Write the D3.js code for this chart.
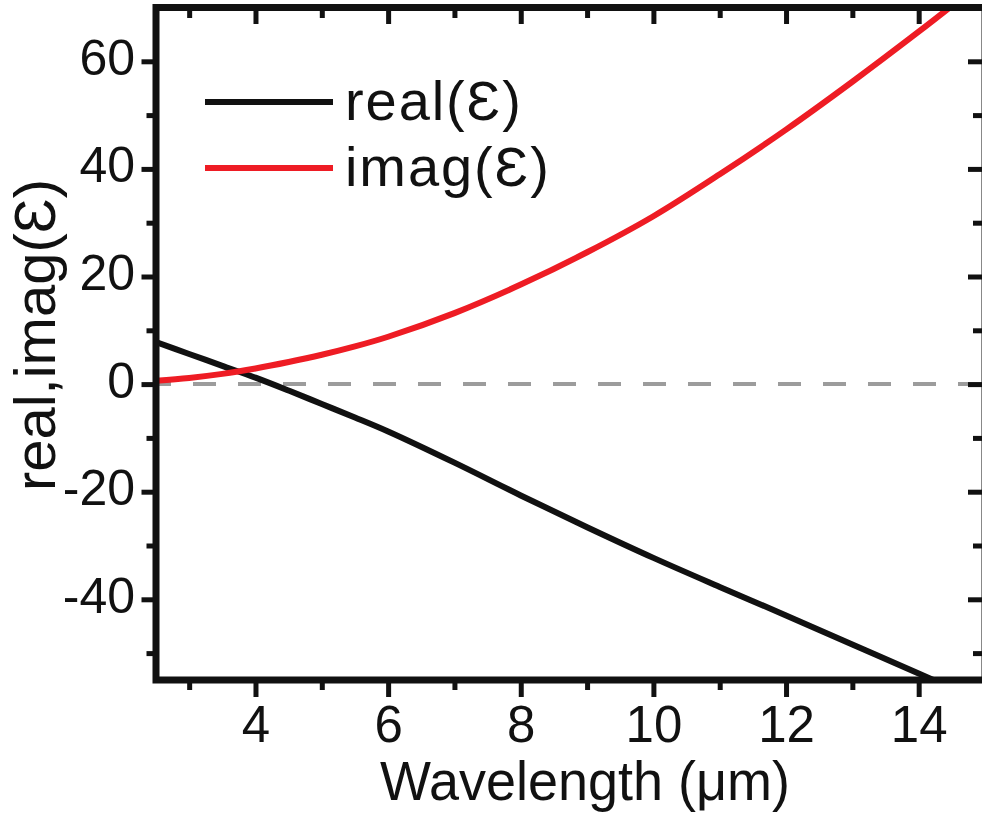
<!DOCTYPE html>
<html>
<head>
<meta charset="utf-8">
<script src="https://cdn.jsdelivr.net/npm/d3@7/dist/d3.min.js"></script>
<style>
  html, body { margin: 0; padding: 0; background: #fff; }
  svg { display: block; }
  text { font-family: "Liberation Sans", Arial, "DejaVu Sans", sans-serif; fill: #111; }
</style>
</head>
<body>
<svg id="chart" width="982" height="813"></svg>
<script>
// ---- data ----
const wavelength = [2.5, 3, 3.5, 4, 4.5, 5, 5.5, 6, 7, 8, 9, 10, 11, 12, 13, 14, 14.5];
const realEps    = [7.8, 5.6, 3.4, 1.2, -1.2, -3.7, -6.2, -8.8, -14.6, -20.7, -26.6, -32.3, -37.7, -43.0, -48.4, -53.8, -56.5];
const imagEps    = [0.6, 1.15, 1.9, 2.9, 4.1, 5.45, 7.0, 8.8, 13.2, 18.5, 24.5, 31.2, 39.0, 47.3, 56.2, 65.5, 70.3];
const xMajorTicks = [4, 6, 8, 10, 12, 14];
const xMinorTicks = [3, 5, 7, 9, 11, 13];
const yMajorTicks = [-40, -20, 0, 20, 40, 60];
const yMinorTicks = [-50, -30, -10, 10, 30, 50];
const seriesNames = ["real(\u0190)", "imag(\u0190)"];
const seriesColors = ["#111111", "#ee1c24"];
const xTitle = "Wavelength (\u03bcm)";
const yTitle = "real,imag(\u0190)";

// ---- layout ----
const L = 156, R = 985, T = 7.5, B = 680;
const svg = d3.select("#chart");
const x = d3.scaleLinear().domain([2.5, 15]).range([L, R]);
const y = d3.scaleLinear().domain([-55, 70]).range([B, T]);

svg.append("defs").append("clipPath").attr("id", "clip")
  .append("rect").attr("x", L).attr("y", T).attr("width", R - L).attr("height", B - T);

// zero dashed line
svg.append("line")
  .attr("x1", L).attr("x2", R).attr("y1", y(0)).attr("y2", y(0))
  .attr("stroke", "#9c9c9c").attr("stroke-width", 4)
  .attr("stroke-dasharray", "23 22").attr("stroke-dashoffset", 8);

// curves
const line = d3.line().x(d => x(d[0])).y(d => y(d[1])).curve(d3.curveCatmullRom.alpha(0.5));
const series = [realEps, imagEps];
const plot = svg.append("g").attr("clip-path", "url(#clip)");
series.forEach((vals, i) => {
  plot.append("path")
    .datum(wavelength.map((w, j) => [w, vals[j]]))
    .attr("d", line)
    .attr("fill", "none")
    .attr("stroke", seriesColors[i])
    .attr("stroke-width", 6)
    .attr("stroke-linejoin", "round");
});

// axes helper
function styleAxis(g) {
  g.select(".domain").remove();
  g.selectAll(".tick line").attr("stroke", "#111").attr("stroke-width", 5);
}
// bottom
svg.append("g").attr("transform", `translate(0,${B})`)
  .call(d3.axisBottom(x).tickValues(xMajorTicks).tickSize(17).tickPadding(0).tickFormat(d3.format("d")))
  .call(styleAxis)
  .call(g => g.selectAll("text").attr("y", 62).attr("dy", null).attr("font-size", 51));
svg.append("g").attr("transform", `translate(0,${B})`)
  .call(d3.axisBottom(x).tickValues(xMinorTicks).tickSize(10).tickFormat(""))
  .call(styleAxis);
// top (inward)
svg.append("g").attr("transform", `translate(0,${T})`)
  .call(d3.axisBottom(x).tickValues(xMajorTicks).tickSize(16.5).tickFormat(""))
  .call(styleAxis);
svg.append("g").attr("transform", `translate(0,${T})`)
  .call(d3.axisBottom(x).tickValues(xMinorTicks).tickSize(10.5).tickFormat(""))
  .call(styleAxis);
// left
svg.append("g").attr("transform", `translate(${L},0)`)
  .call(d3.axisLeft(y).tickValues(yMajorTicks).tickSize(14.5).tickFormat(d => String(d)))
  .call(styleAxis)
  .call(g => g.selectAll("text").attr("x", -21).attr("dy", null).attr("y", 13).attr("font-size", 50));
svg.append("g").attr("transform", `translate(${L},0)`)
  .call(d3.axisLeft(y).tickValues(yMinorTicks).tickSize(9.5).tickFormat(""))
  .call(styleAxis);
// right (inward)
svg.append("g").attr("transform", `translate(${R},0)`)
  .call(d3.axisLeft(y).tickValues(yMajorTicks).tickSize(17).tickFormat(""))
  .call(styleAxis);
svg.append("g").attr("transform", `translate(${R},0)`)
  .call(d3.axisLeft(y).tickValues(yMinorTicks).tickSize(12).tickFormat(""))
  .call(styleAxis);

// frame
svg.append("rect")
  .attr("x", L).attr("y", T).attr("width", R - L).attr("height", B - T)
  .attr("fill", "none").attr("stroke", "#111").attr("stroke-width", 7);

// axis titles
svg.append("text")
  .attr("x", 585).attr("y", 800)
  .attr("text-anchor", "middle").attr("font-size", 56)
  .attr("textLength", 410).attr("lengthAdjust", "spacingAndGlyphs")
  .text(xTitle);
svg.append("text")
  .attr("transform", "translate(55,335) rotate(-90)")
  .attr("text-anchor", "middle").attr("font-size", 58)
  .text(yTitle);

// legend
const legendY = [102, 168];
const legendLen = [176, 204];
const legend = svg.append("g");
seriesNames.forEach((name, i) => {
  legend.append("line")
    .attr("x1", 205).attr("x2", 333).attr("y1", legendY[i]).attr("y2", legendY[i])
    .attr("stroke", seriesColors[i]).attr("stroke-width", 6);
  legend.append("text")
    .attr("x", 345).attr("y", legendY[i] + 18)
    .attr("font-size", 56)
    .attr("textLength", legendLen[i]).attr("lengthAdjust", "spacing")
    .text(name);
});
</script>
</body>
</html>
